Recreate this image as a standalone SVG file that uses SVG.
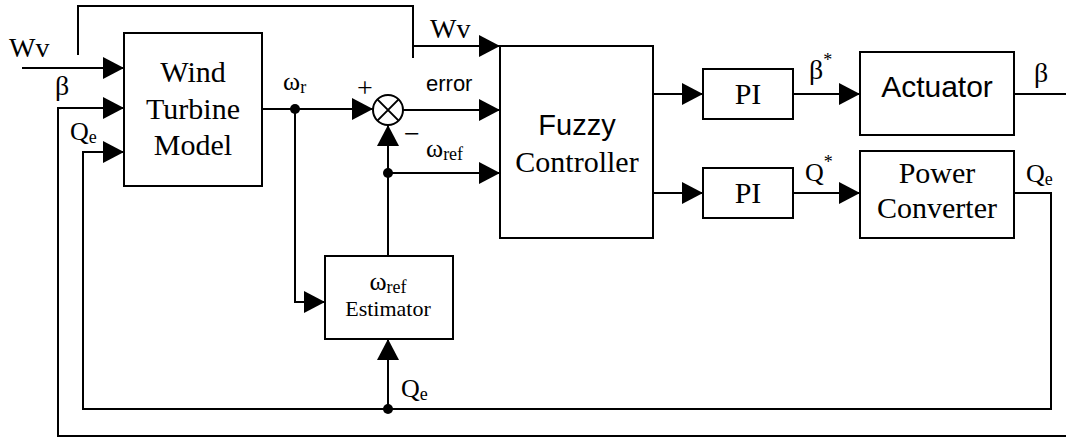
<svg xmlns="http://www.w3.org/2000/svg" width="1066" height="438" viewBox="0 0 1066 438">
<style>
.box{fill:#fff;stroke:#000;stroke-width:2}
.ln{fill:none;stroke:#000;stroke-width:2}
.ar{marker-end:url(#ah)}
.s{font-family:"Liberation Serif","Times New Roman",serif;fill:#000}
.a{font-family:"Liberation Sans",Arial,sans-serif;fill:#000}
.dot{fill:#000}
</style>
<defs>
<marker id="ah" markerUnits="userSpaceOnUse" markerWidth="22" markerHeight="24" refX="21" refY="11" orient="auto" viewBox="0 0 22 22">
<path d="M0,0 L21,11 L0,22 Z" fill="#000"/>
</marker>
</defs>
<g id="connectors">
<path class="ln ar" d="M22,68 H124"/>
<path class="ln" d="M78,55 V6 H413 V58"/>
<path class="ln ar" d="M413,46 H500"/>
<path class="ln" d="M1014,94 H1066"/>
<path class="ln ar" d="M1066,436 H58 V108 H124"/>
<path class="ln ar" d="M1014,193 H1051 V409 H83 V152 H124"/>
<path class="ln ar" d="M388,409 V339"/>
<path class="ln ar" d="M262,109 H373"/>
<path class="ln ar" d="M295,109 V302 H325"/>
<path class="ln ar" d="M403,110 H500"/>
<path class="ln ar" d="M388,256 V125"/>
<path class="ln ar" d="M388,173 H500"/>
<path class="ln ar" d="M653,94 H703"/>
<path class="ln ar" d="M653,193 H703"/>
<path class="ln ar" d="M793,94 H860"/>
<path class="ln ar" d="M793,193 H860"/>
<circle class="dot" cx="295" cy="109" r="5"/>
<circle class="dot" cx="388" cy="173" r="5"/>
<circle class="dot" cx="388" cy="409" r="5"/>
</g>
<g id="sum">
<circle cx="388" cy="110" r="15" fill="#fff" stroke="#000" stroke-width="2"/>
<path class="ln" d="M377.4,99.4 L398.6,120.6 M398.6,99.4 L377.4,120.6"/>
</g>
<g id="wind-turbine">
<rect class="box" x="124" y="33" width="138" height="153"/>
<text class="s" style="font-size:30px" x="193" y="82" text-anchor="middle">Wind</text>
<text class="s" style="font-size:30px" x="193" y="119" text-anchor="middle">Turbine</text>
<text class="s" style="font-size:30px" x="193" y="155" text-anchor="middle">Model</text>
</g>
<g id="fuzzy">
<rect class="box" x="500" y="46" width="153" height="192"/>
<text class="a" style="font-size:29px" x="577" y="135" text-anchor="middle">Fuzzy</text>
<text class="s" style="font-size:30px" x="577" y="172" text-anchor="middle">Controller</text>
</g>
<g id="pi1">
<rect class="box" x="703" y="69" width="90" height="50"/>
<text class="s" style="font-size:30px" x="748" y="104" text-anchor="middle">PI</text>
</g>
<g id="pi2">
<rect class="box" x="703" y="168" width="90" height="50"/>
<text class="s" style="font-size:30px" x="748" y="203" text-anchor="middle">PI</text>
</g>
<g id="actuator">
<rect class="box" x="860" y="52" width="154" height="83"/>
<text class="a" style="font-size:30px" x="937" y="97" text-anchor="middle">Actuator</text>
</g>
<g id="power-converter">
<rect class="box" x="860" y="151" width="154" height="87"/>
<text class="s" style="font-size:30px" x="937" y="183" text-anchor="middle">Power</text>
<text class="s" style="font-size:30px" x="937" y="218" text-anchor="middle">Converter</text>
</g>
<g id="estimator">
<rect class="box" x="325" y="256" width="128" height="83"/>
<text class="s" style="font-size:26px" x="388" y="290" text-anchor="middle">ω<tspan style="font-size:18px" dy="3">ref</tspan></text>
<text class="s" style="font-size:22px" x="388" y="316" text-anchor="middle">Estimator</text>
</g>
<g id="labels">
<text class="s" style="font-size:28px" x="9" y="57">Wv</text>
<text class="s" style="font-size:28px" x="430" y="38">Wv</text>
<text class="s" style="font-size:28px" x="55" y="95">β</text>
<text class="s" style="font-size:26px" x="70" y="140">Q<tspan style="font-size:18px" dy="3">e</tspan></text>
<text class="s" style="font-size:26px" x="283" y="90">ω<tspan style="font-size:18px" dy="3">r</tspan></text>
<text class="s" style="font-size:28px" x="357" y="97">+</text>
<text class="a" style="font-size:22px" x="426" y="91">error</text>
<text class="s" style="font-size:28px" x="404" y="143">−</text>
<text class="s" style="font-size:26px" x="426" y="157">ω<tspan style="font-size:18px" dy="3">ref</tspan></text>
<text class="s" style="font-size:28px" x="809" y="79">β<tspan style="font-size:18px" dy="-13">*</tspan></text>
<text class="s" style="font-size:26px" x="805" y="181">Q<tspan style="font-size:18px" dy="-13">*</tspan></text>
<text class="s" style="font-size:28px" x="1034" y="82">β</text>
<text class="s" style="font-size:26px" x="1026" y="182">Q<tspan style="font-size:18px" dy="3">e</tspan></text>
<text class="s" style="font-size:26px" x="401" y="397">Q<tspan style="font-size:18px" dy="3">e</tspan></text>
</g>
</svg>
